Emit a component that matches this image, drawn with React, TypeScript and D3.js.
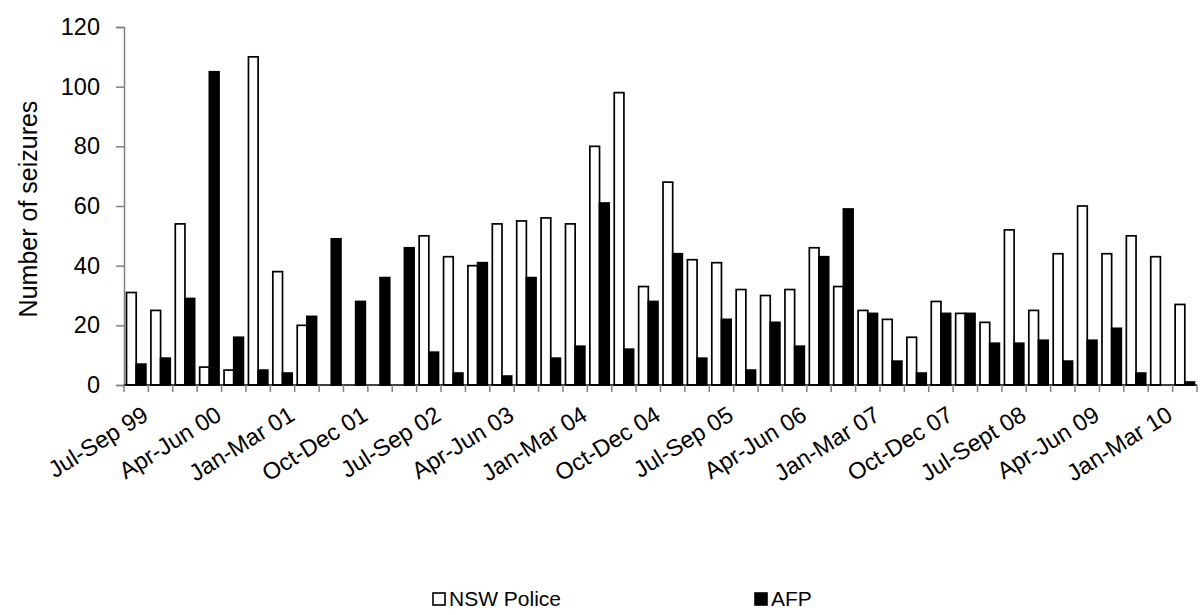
import React, { useRef, useEffect } from "react";
import * as d3 from "d3";

const quarters = [
    "Jul-Sep 99", "Oct-Dec 99", "Jan-Mar 00", "Apr-Jun 00",
    "Jul-Sep 00", "Oct-Dec 00", "Jan-Mar 01", "Apr-Jun 01",
    "Jul-Sep 01", "Oct-Dec 01", "Jan-Mar 02", "Apr-Jun 02",
    "Jul-Sep 02", "Oct-Dec 02", "Jan-Mar 03", "Apr-Jun 03",
    "Jul-Sep 03", "Oct-Dec 03", "Jan-Mar 04", "Apr-Jun 04",
    "Jul-Sep 04", "Oct-Dec 04", "Jan-Mar 05", "Apr-Jun 05",
    "Jul-Sep 05", "Oct-Dec 05", "Jan-Mar 06", "Apr-Jun 06",
    "Jul-Sep 06", "Oct-Dec 06", "Jan-Mar 07", "Apr-Jun 07",
    "Jul-Sep 07", "Oct-Dec 07", "Jan-Mar 08", "Apr-Jun 08",
    "Jul-Sept 08", "Oct-Dec 08", "Jan-Mar 09", "Apr-Jun 09",
    "Jul-Sep 09", "Oct-Dec 09", "Jan-Mar 10", "Apr-Jun 10",
];

const nswPolice = [
    31, 25, 54, 6, 5, 110, 38, 20, 0, 0, 0, 0,
    50, 43, 40, 54, 55, 56, 54, 80, 98, 33, 68, 42,
    41, 32, 30, 32, 46, 33, 25, 22, 16, 28, 24, 21,
    52, 25, 44, 60, 44, 50, 43, 27,
];

const afp = [
    7, 9, 29, 105, 16, 5, 4, 23, 49, 28, 36, 46,
    11, 4, 41, 3, 36, 9, 13, 61, 12, 28, 44, 9,
    22, 5, 21, 13, 43, 59, 24, 8, 4, 24, 24, 14,
    14, 15, 8, 15, 19, 4, 0, 1,
];

const seriesNames = ["NSW Police", "AFP"];
const yTicks = [0, 20, 40, 60, 80, 100, 120];

const font = "'Liberation Sans', Arial, sans-serif";

export default function App() {
    const svgRef = useRef<SVGSVGElement>(null);

    useEffect(() => {
        if (!svgRef.current) return;
        document.body.style.margin = "0";

        const svg = d3.select(svgRef.current);
        svg.selectAll("*").remove();

        const width = 1200;
        const height = 615;
        const margin = { top: 27, right: 3, bottom: 230, left: 124 };

        const x = d3
            .scaleBand()
            .domain(quarters)
            .range([margin.left, width - margin.right]);

        const inner = d3
            .scaleBand()
            .domain(seriesNames)
            .range([0, x.bandwidth()])
            .paddingOuter(0.26)
            .paddingInner(0);

        const y = d3
            .scaleLinear()
            .domain([0, 120])
            .range([height - margin.bottom, margin.top]);

        const base = y(0);

        // y axis
        const yAxis = svg
            .append("g")
            .attr("transform", `translate(${margin.left},0)`)
            .call(d3.axisLeft(y).tickValues(yTicks).tickSize(8).tickPadding(16));
        yAxis.select(".domain").attr("stroke", "#808080").attr("stroke-width", 1.5);
        yAxis.selectAll(".tick line").attr("stroke", "#808080").attr("stroke-width", 1.5);
        yAxis
            .selectAll(".tick text")
            .attr("font-family", font)
            .attr("font-size", 23.5)
            .attr("fill", "#000");

        // bars
        const groups = svg
            .append("g")
            .selectAll("g")
            .data(quarters)
            .join("g")
            .attr("transform", (d) => `translate(${x(d)},0)`);

        groups
            .append("rect")
            .attr("x", inner("NSW Police") || 0)
            .attr("width", inner.bandwidth())
            .attr("y", (d, i) => y(nswPolice[i]))
            .attr("height", (d, i) => base - y(nswPolice[i]))
            .attr("fill", "#fff")
            .attr("stroke", "#000")
            .attr("stroke-width", 1.7)
            .attr("display", (d, i) => (nswPolice[i] > 0 ? null : "none"));

        groups
            .append("rect")
            .attr("x", inner("AFP") || 0)
            .attr("width", inner.bandwidth())
            .attr("y", (d, i) => y(afp[i]))
            .attr("height", (d, i) => base - y(afp[i]))
            .attr("fill", "#000")
            .attr("stroke", "#000")
            .attr("stroke-width", 1.7)
            .attr("display", (d, i) => (afp[i] > 0 ? null : "none"));

        // x axis
        const xAxis = svg.append("g").attr("transform", `translate(0,${base})`);
        xAxis
            .append("line")
            .attr("x1", margin.left)
            .attr("x2", width - margin.right)
            .attr("stroke", "#000")
            .attr("stroke-width", 1.5);
        xAxis
            .selectAll("line.tick")
            .data(quarters.concat(["end"]))
            .join("line")
            .attr("class", "tick")
            .attr("x1", (d, i) => margin.left + i * x.step())
            .attr("x2", (d, i) => margin.left + i * x.step())
            .attr("y1", 0)
            .attr("y2", 7)
            .attr("stroke", "#808080")
            .attr("stroke-width", 1.5);

        xAxis
            .selectAll("text")
            .data(quarters.filter((d, i) => i % 3 === 0))
            .join("text")
            .attr(
                "transform",
                (d) => `translate(${(x(d) || 0) + x.bandwidth() / 2 + 5},${20}) rotate(-32)`
            )
            .attr("text-anchor", "end")
            .attr("dy", "0.7em")
            .attr("font-family", font)
            .attr("font-size", 23.5)
            .text((d) => d);

        // y title
        svg.append("text")
            .attr("transform", `translate(28,${(margin.top + base) / 2 + 3}) rotate(-90)`)
            .attr("text-anchor", "middle")
            .attr("dy", "0.35em")
            .attr("font-family", font)
            .attr("font-size", 25)
            .text("Number of seizures");

        // legend
        const legendX = [433, 755];
        const legend = svg
            .append("g")
            .selectAll("g")
            .data(seriesNames)
            .join("g")
            .attr("transform", (d, i) => `translate(${legendX[i]},599)`);
        legend
            .append("rect")
            .attr("x", 0)
            .attr("y", -6)
            .attr("width", 12)
            .attr("height", 12)
            .attr("fill", (d, i) => (i === 0 ? "#fff" : "#000"))
            .attr("stroke", "#000")
            .attr("stroke-width", 1.6);
        legend
            .append("text")
            .attr("x", 16)
            .attr("dy", "0.35em")
            .attr("font-family", font)
            .attr("font-size", 21)
            .text((d) => d);

        svg.attr("width", width).attr("height", height);
    }, []);

    return <svg ref={svgRef} style={{ display: "block" }} />;
}
